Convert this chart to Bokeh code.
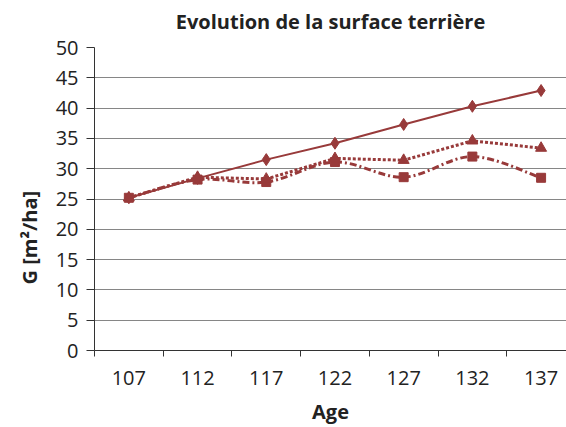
from bokeh.plotting import figure
from bokeh.models import FixedTicker, Range1d, ColumnDataSource, Title, LinearAxis
from bokeh.embed import file_html
from bokeh.resources import INLINE

ages = [107, 112, 117, 122, 127, 132, 137]
serie_a = [25.2, 28.4, 31.5, 34.2, 37.3, 40.3, 42.9]   # solid, diamonds
serie_b = [25.2, 28.6, 28.3, 31.7, 31.4, 34.6, 33.4]   # dotted, triangles
serie_c = [25.2, 28.2, 27.8, 31.1, 28.6, 32.0, 28.5]   # dash-dot smoothed, squares
y_ticks = [0, 5, 10, 15, 20, 25, 30, 35, 40, 45, 50]
title_text = "Evolution de la surface terrière"
x_label = "Age"
y_label = "G [m²/ha]"

COLOR = "#983A3A"
FONT = "Open Sans"
TXT = "#222222"

p = figure(width=566, height=427, output_backend="svg", toolbar_location=None,
           x_range=Range1d(104.5, 138.85), y_range=Range1d(0, 50),
           min_border_left=94, min_border_right=0, min_border_top=47, min_border_bottom=76)

p.outline_line_color = None
p.background_fill_color = "white"
p.border_fill_color = "white"

xax = p.below[0]
yax = p.left[0]

# grid
p.xgrid.grid_line_color = None
p.ygrid.ticker = FixedTicker(ticks=y_ticks)
p.ygrid.grid_line_color = "#868686"
p.ygrid.grid_line_width = 1

# x axis (category style: ticks between categories)
minor = [a - 2.5 for a in ages]
xax.ticker = FixedTicker(ticks=ages, minor_ticks=minor)
xax.major_tick_out = 0
xax.major_tick_in = 0
xax.minor_tick_out = 6
xax.minor_tick_in = 0
xax.minor_tick_line_color = "#333333"
xax.axis_line_color = "#333333"
xax.major_label_standoff = 14
xax.axis_label = x_label
xax.axis_label_standoff = 10

# y axis
yax.ticker = FixedTicker(ticks=y_ticks)
yax.major_tick_out = 8
yax.major_tick_in = 0
yax.minor_tick_line_color = None
yax.major_tick_line_color = "#333333"
yax.axis_line_color = "#333333"
yax.major_label_standoff = 8

for ax in (xax, yax):
    ax.major_label_text_font = FONT
    ax.major_label_text_font_size = "20px"
    ax.major_label_text_color = TXT
    ax.axis_label_text_font = FONT
    ax.axis_label_text_font_size = "20px"
    ax.axis_label_text_font_style = "bold"
    ax.axis_label_text_color = TXT

# chart title drawn as the label of a bare axis above the plot
top = LinearAxis(ticker=FixedTicker(ticks=[]), bounds=(106.32, 138.84),
                 axis_line_color=None, major_tick_line_color=None, minor_tick_line_color=None,
                 major_tick_out=0, major_tick_in=0, minor_tick_out=0, minor_tick_in=0,
                 major_label_standoff=0, axis_label=title_text, axis_label_standoff=13,
                 axis_label_text_font=FONT, axis_label_text_font_size="20px",
                 axis_label_text_font_style="bold", axis_label_text_color=TXT)
p.add_layout(top, "above")

# y axis title, placed lower than the frame centre as in the reference
p.add_layout(Title(text=y_label, align="left", offset=66, standoff=20, text_font=FONT,
                   text_font_size="20px", text_font_style="bold", text_color=TXT), "left")

# series C: smoothed (Bezier control points from neighbouring points)
n = len(ages)
x0, y0, x1, y1, cx0, cy0, cx1, cy1 = [], [], [], [], [], [], [], []
for i in range(n - 1):
    im1 = max(i - 1, 0)
    ip2 = min(i + 2, n - 1)
    x0.append(ages[i]); y0.append(serie_c[i])
    x1.append(ages[i + 1]); y1.append(serie_c[i + 1])
    cx0.append(ages[i] + (ages[i + 1] - ages[im1]) / 6)
    cy0.append(serie_c[i] + (serie_c[i + 1] - serie_c[im1]) / 6)
    cx1.append(ages[i + 1] - (ages[ip2] - ages[i]) / 6)
    cy1.append(serie_c[i + 1] - (serie_c[ip2] - serie_c[i]) / 6)
bz = ColumnDataSource(dict(x0=x0, y0=y0, x1=x1, y1=y1, cx0=cx0, cy0=cy0, cx1=cx1, cy1=cy1))
p.bezier(x0="x0", y0="y0", x1="x1", y1="y1", cx0="cx0", cy0="cy0", cx1="cx1", cy1="cy1",
         source=bz, line_color=COLOR, line_width=3, line_dash="7 3 2 3")
p.scatter(ages, serie_c, marker="square", size=9, fill_color=COLOR, line_color=COLOR)

# series B: dotted with triangles
p.line(ages, serie_b, line_color=COLOR, line_width=3, line_dash="3 2")
p.scatter(ages, serie_b, marker="triangle", size=11, fill_color=COLOR, line_color=COLOR)

# series A: solid with diamonds
p.line(ages, serie_a, line_color=COLOR, line_width=2)
p.scatter(ages, serie_a, marker="diamond", size=12, fill_color=COLOR, line_color=COLOR)

open("out.html", "w").write(file_html(p, INLINE))
